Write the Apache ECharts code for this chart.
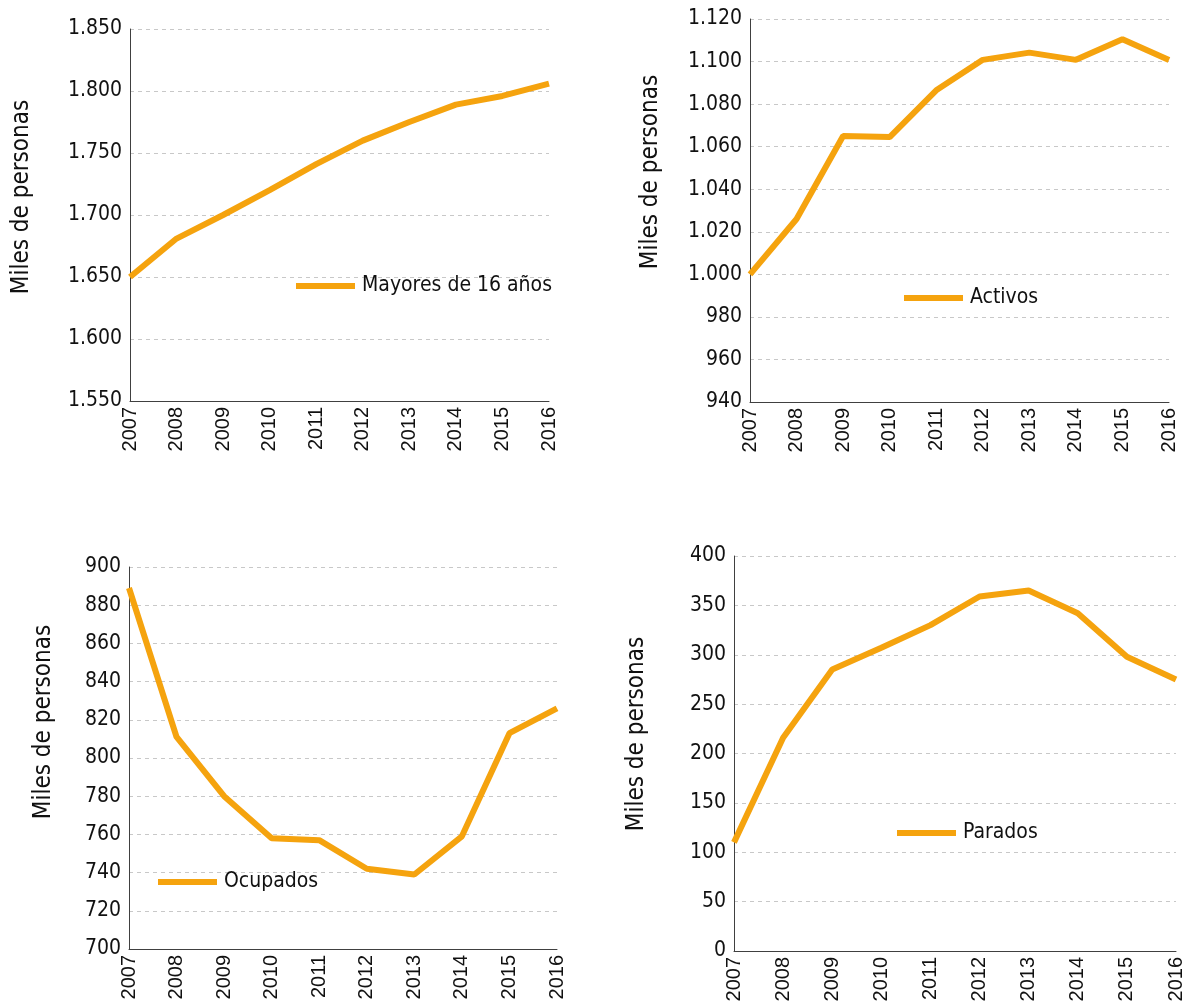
<!DOCTYPE html>
<html>
<head>
<meta charset="utf-8">
<script src="https://cdn.jsdelivr.net/npm/echarts@6/dist/echarts.min.js"></script>
<style>
html,body{margin:0;padding:0;background:#fff;}
#chart{width:1186px;height:1006px;}
</style>
</head>
<body>
<div id="chart"></div>
<script>
const years = ['2007','2008','2009','2010','2011','2012','2013','2014','2015','2016'];
const mayores16 = [1650, 1681, 1700, 1720, 1741, 1760, 1775, 1789, 1796, 1806];
const activos = [1000, 1026, 1065, 1064.5, 1086.5, 1100.8, 1104.2, 1100.8, 1110.5, 1100.7];
const ocupados = [889, 811, 780, 758, 757, 742, 739, 759, 813, 826];
const parados = [110, 216, 285, 307, 330, 359, 365, 342, 298, 275];

const ticksMayores = [1550, 1600, 1650, 1700, 1750, 1800, 1850];
const ticksActivos = [940, 960, 980, 1000, 1020, 1040, 1060, 1080, 1100, 1120];
const ticksOcupados = [700, 720, 740, 760, 780, 800, 820, 840, 860, 880, 900];
const ticksParados = [0, 50, 100, 150, 200, 250, 300, 350, 400];

const seriesNames = ['Mayores de 16 años', 'Activos', 'Ocupados', 'Parados'];
const yTitle = 'Miles de personas';

const COLOR = '#F5A30E';
const FONT = 'DejaVu Sans Condensed';

function fmt(v){
  const s = String(Math.round(v));
  return s.replace(/\B(?=(\d{3})+(?!\d))/g, '.');
}

const panels = [
  {grid:{left:130, top:29, width:419, height:372}, ticks:ticksMayores, data:mayores16, name:seriesNames[0],
   legend:{left:296, top:275}, title:{x:22, y:197}},
  {grid:{left:750, top:19, width:419, height:383}, ticks:ticksActivos, data:activos, name:seriesNames[1],
   legend:{left:904, top:287}, title:{x:651, y:172}},
  {grid:{left:129, top:567, width:428, height:382}, ticks:ticksOcupados, data:ocupados, name:seriesNames[2],
   legend:{left:158, top:871}, title:{x:44, y:722}},
  {grid:{left:734, top:556, width:443, height:395}, ticks:ticksParados, data:parados, name:seriesNames[3],
   legend:{left:897, top:822}, title:{x:637, y:734}}
];

const option = {
  backgroundColor:'#fff',
  animation:false,
  grid: panels.map(p => Object.assign({containLabel:false}, p.grid)),
  xAxis: panels.map((p,i) => ({
    type:'category', gridIndex:i, data:years, boundaryGap:false,
    axisLine:{show:true, lineStyle:{color:'#404040', width:1}},
    axisTick:{show:false},
    axisLabel:{rotate:90, fontFamily:'Liberation Sans', fontSize:20, color:'#111', margin:6, interval:0},
    splitLine:{show:false}
  })),
  yAxis: panels.map((p,i) => ({
    type:'value', gridIndex:i,
    min:p.ticks[0], max:p.ticks[p.ticks.length-1], interval:p.ticks[1]-p.ticks[0],
    axisLine:{show:true, lineStyle:{color:'#404040', width:1}},
    axisTick:{show:false},
    axisLabel:{formatter:fmt, fontFamily:FONT, fontSize:21, color:'#111', margin:8},
    splitLine:{show:true, lineStyle:{color:'#c8c8c8', type:[4,4], width:1}}
  })),
  legend: panels.map(p => ({
    data:[p.name], left:p.legend.left, top:p.legend.top,
    icon:'rect', itemWidth:59, itemHeight:6, padding:0,
    textStyle:{fontFamily:FONT, fontSize:21, color:'#111', lineHeight:22, padding:[0,0,0,2]},
    itemStyle:{color:COLOR}, selectedMode:false
  })),
  series: panels.map((p,i) => ({
    type:'line', name:p.name, xAxisIndex:i, yAxisIndex:i, data:p.data,
    showSymbol:false, symbol:'none', clip:false,
    lineStyle:{color:COLOR, width:6}, itemStyle:{color:COLOR}
  })),
  graphic: panels.map(p => ({
    type:'text', x:p.title.x, y:p.title.y, rotation:Math.PI/2,
    style:{text:yTitle, font:'24px "' + FONT + '"', fill:'#111', align:'center', verticalAlign:'middle'}
  }))
};

const chart = echarts.init(document.getElementById('chart'), null, {renderer:'canvas'});
chart.setOption(option);
</script>
</body>
</html>
